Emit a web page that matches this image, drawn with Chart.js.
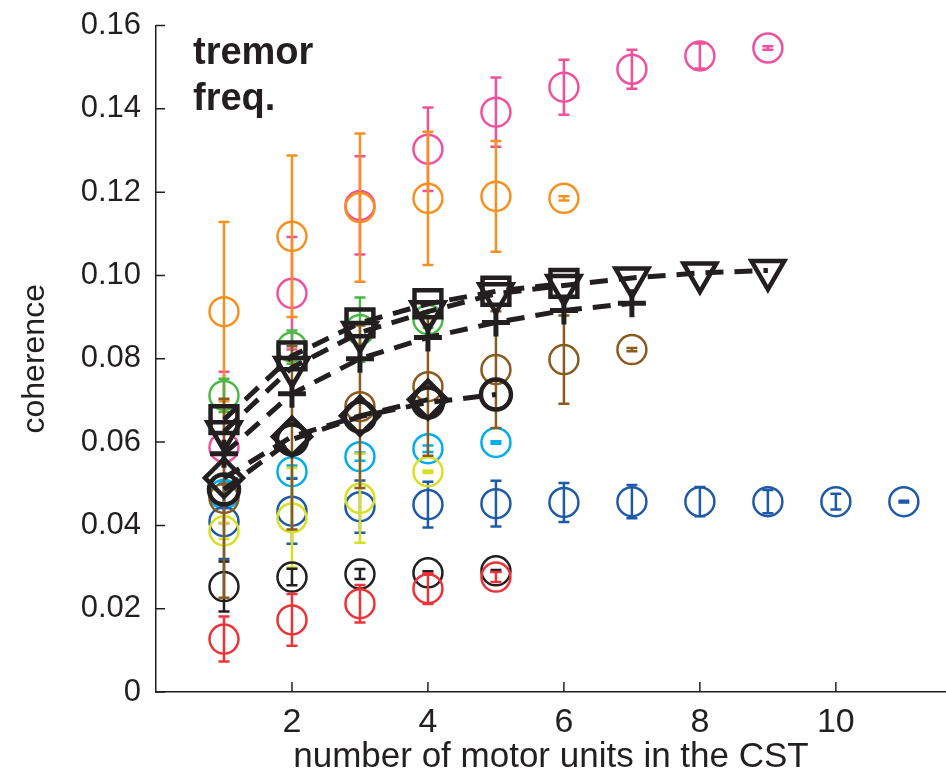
<!DOCTYPE html>
<html>
<head>
<meta charset="utf-8">
<script src="https://cdn.jsdelivr.net/npm/chart.js@4.4.1/dist/chart.umd.min.js"></script>
<style>
  body { margin: 0; background: #fff; }
</style>
</head>
<body>
<canvas id="cohChart" width="946" height="778"></canvas>
<script>
const ink = '#231f20'
const family = '"Liberation Sans", Arial, sans-serif'

// number of motor units in the CST
const motorUnits = [1, 2, 3, 4, 5, 6, 7, 8, 9, 10, 11]
const xTicks = [2, 4, 6, 8, 10]

// coherence means and error bar half-lengths, one pair per colour
const pinkMean = [0.0587, 0.0957, 0.1168, 0.1303, 0.1392, 0.1452, 0.1495, 0.1527, 0.1546]
const pinkErr = [0.0182, 0.0135, 0.0118, 0.0100, 0.0083, 0.0066, 0.0047, 0.0030, 0.0004]

const orangeMean = [0.0913, 0.1094, 0.1163, 0.1185, 0.1190, 0.1185]
const orangeErr = [0.0215, 0.0194, 0.0178, 0.0160, 0.0133, 0.0005]

const greenMean = [0.0712, 0.0828, 0.0870, 0.0894]
const greenErr = [0.0040, 0.0040, 0.0077, 0.0020]

const cyanMean = [0.0475, 0.0529, 0.0565, 0.0584, 0.0599]
const cyanErr = [0.0030, 0.0015, 0.0010, 0.0008, 0.0003]

const yellowMean = [0.0387, 0.0418, 0.0465, 0.0529]
const yellowErr = [0.0020, 0.0120, 0.0107, 0.0003]

const blueMean = [0.0409, 0.0434, 0.0445, 0.0450, 0.0452, 0.0455, 0.0457, 0.0457, 0.0457, 0.0457, 0.0457]
const blueErr = [0.0090, 0.0078, 0.0063, 0.0055, 0.0055, 0.0047, 0.0040, 0.0035, 0.0028, 0.0019, 0.0002]

const brownMean = [0.0465, 0.0610, 0.0685, 0.0733, 0.0774, 0.0798, 0.0822]
const brownErr = [0.0239, 0.0220, 0.0195, 0.0166, 0.0140, 0.0106, 0.0004]

const greyMean = [0.0253, 0.0276, 0.0283, 0.0286, 0.0291]
const greyErr = [0.0060, 0.0020, 0.0012, 0.0004, 0.0002]

const redMean = [0.0127, 0.0173, 0.0212, 0.0248, 0.0276]
const redErr = [0.0054, 0.0062, 0.0045, 0.0037, 0.0012]

// black summary curves (dashed)
const squareMean = [0.0654, 0.0807, 0.0886, 0.0932, 0.0962, 0.0981]
const triangleMean = [0.0625, 0.0779, 0.0863, 0.0913, 0.0956, 0.0976, 0.0994, 0.1006, 0.1012]
const plusMean = [0.0572, 0.0716, 0.0800, 0.0851, 0.0887, 0.0916, 0.0933]
const diamondMean = [0.0514, 0.0613, 0.0663, 0.0702]
const ringMean = [0.0486, 0.0606, 0.0661, 0.0695, 0.0714]

function pts(vals) {
  return vals.map((v, i) => ({ x: motorUnits[i], y: v }))
}

function circleSet(label, vals, errs, color) {
  return {
    label: label,
    data: pts(vals),
    errs: errs,
    showLine: false,
    pointStyle: 'circle',
    pointRadius: 14.5,
    pointHoverRadius: 14.5,
    pointBorderWidth: 2.5,
    pointBorderColor: color,
    borderColor: color,
    pointBackgroundColor: 'rgba(0,0,0,0)'
  }
}

function blackSet(label, vals, style, radius, rotation, width) {
  return {
    label: label,
    data: pts(vals),
    showLine: true,
    borderColor: ink,
    borderWidth: 5,
    borderDash: [18, 11],
    pointStyle: style,
    pointRadius: radius,
    pointHoverRadius: radius,
    pointRotation: rotation,
    pointBorderColor: ink,
    pointBorderWidth: width,
    pointBackgroundColor: 'rgba(0,0,0,0)'
  }
}

// error bars drawn right after their own dataset so the stacking stays right
const errorBars = {
  id: 'errorBars',
  afterDatasetDraw(chart, args) {
    const ds = chart.data.datasets[args.index]
    if (!ds.errs) return
    const { ctx } = chart
    const x = chart.scales.x
    const y = chart.scales.y
    ctx.save()
    ctx.strokeStyle = ds.borderColor
    ctx.lineWidth = 2.5
    ds.data.forEach((p, i) => {
      const px = x.getPixelForValue(p.x)
      const top = y.getPixelForValue(p.y + ds.errs[i])
      const bot = y.getPixelForValue(p.y - ds.errs[i])
      ctx.beginPath()
      ctx.moveTo(px, top)
      ctx.lineTo(px, bot)
      ctx.moveTo(px - 5.5, top)
      ctx.lineTo(px + 5.5, top)
      ctx.moveTo(px - 5.5, bot)
      ctx.lineTo(px + 5.5, bot)
      ctx.stroke()
    })
    ctx.restore()
  }
}

// inward tick marks and the corner label
const axisDecor = {
  id: 'axisDecor',
  afterDraw(chart) {
    const { ctx, chartArea } = chart
    const x = chart.scales.x
    const y = chart.scales.y
    ctx.save()
    ctx.strokeStyle = ink
    ctx.lineWidth = 1.5
    ctx.beginPath()
    y.ticks.forEach(t => {
      const py = y.getPixelForValue(t.value)
      ctx.moveTo(chartArea.left, py)
      ctx.lineTo(chartArea.left + 9, py)
    })
    x.ticks.forEach(t => {
      const px = x.getPixelForValue(t.value)
      ctx.moveTo(px, chartArea.bottom)
      ctx.lineTo(px, chartArea.bottom - 10)
    })
    ctx.stroke()
    ctx.fillStyle = ink
    ctx.font = 'bold 38px ' + family
    ctx.textBaseline = 'alphabetic'
    ctx.fillText('tremor', 193, 64)
    ctx.fillText('freq.', 193, 110)
    ctx.restore()
  }
}

// first dataset is drawn last (on top)
const datasets = [
  blackSet('square', squareMean, 'rect', 19, 0, 4.5),
  blackSet('triangle', triangleMean, 'triangle', 19, 180, 4.5),
  blackSet('plus', plusMean, 'cross', 14, 0, 5),
  blackSet('diamond', diamondMean, 'rectRot', 19, 0, 4.5),
  blackSet('ring', ringMean, 'circle', 15, 0, 4.5),
  circleSet('brown', brownMean, brownErr, '#8b5a1e'),
  circleSet('red', redMean, redErr, '#ee3338'),
  circleSet('grey', greyMean, greyErr, ink),
  circleSet('yellow', yellowMean, yellowErr, '#d9df21'),
  circleSet('blue', blueMean, blueErr, '#1f5aa8'),
  circleSet('cyan', cyanMean, cyanErr, '#00aeef'),
  circleSet('green', greenMean, greenErr, '#4cb848'),
  circleSet('orange', orangeMean, orangeErr, '#f7901e'),
  circleSet('pink', pinkMean, pinkErr, '#f0509e')
]

new Chart(document.getElementById('cohChart'), {
  type: 'scatter',
  data: { datasets: datasets },
  options: {
    responsive: false,
    animation: false,
    layout: { autoPadding: false, padding: { top: 25.5, right: 0, left: 0, bottom: 0 } },
    plugins: {
      legend: { display: false },
      tooltip: { enabled: false }
    },
    scales: {
      x: {
        type: 'linear',
        min: 0,
        max: 11.62,
        afterBuildTicks: scale => {
          scale.ticks = xTicks.map(v => ({ value: v }))
        },
        afterFit: scale => {
          scale.height = 86
          scale.paddingLeft = 0
          scale.paddingRight = 0
        },
        grid: { display: false, drawTicks: false },
        border: { display: true, color: ink, width: 1.5 },
        ticks: {
          padding: 10,
          maxRotation: 0,
          color: ink,
          font: { size: 34, family: family }
        },
        title: {
          display: true,
          text: 'number of motor units in the CST',
          color: ink,
          font: { size: 35, family: family },
          padding: { top: 0, bottom: 0 }
        }
      },
      y: {
        min: 0,
        max: 0.16,
        afterFit: scale => {
          scale.width = 156
          scale.paddingTop = 0
          scale.paddingBottom = 0
        },
        grid: { display: false, drawTicks: false },
        border: { display: true, color: ink, width: 1.5 },
        ticks: {
          stepSize: 0.02,
          padding: 15,
          color: ink,
          font: { size: 31, family: family },
          callback: v => (Math.abs(v) < 1e-9 ? '0' : v.toFixed(2))
        },
        title: {
          display: true,
          text: 'coherence',
          color: ink,
          font: { size: 32, family: family },
          padding: { top: 16, bottom: 0 }
        }
      }
    }
  },
  plugins: [errorBars, axisDecor]
})
</script>
</body>
</html>
